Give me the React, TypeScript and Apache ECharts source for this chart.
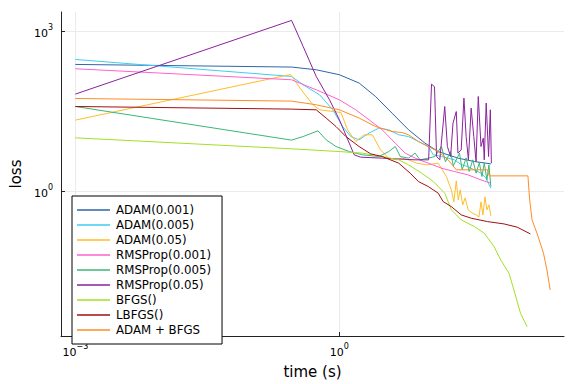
import React, { useEffect, useRef } from "react";
import * as echarts from "echarts";

// Points are [log10(time in s), log10(loss)].
const seriesNames = [
  "ADAM(0.001)",
  "ADAM(0.005)",
  "ADAM(0.05)",
  "RMSProp(0.001)",
  "RMSProp(0.005)",
  "RMSProp(0.05)",
  "BFGS()",
  "LBFGS()",
  "ADAM + BFGS",
];

const colors = [
  "#2f66a8",
  "#3fcdf2",
  "#fdbd2c",
  "#ff62cc",
  "#3cb676",
  "#8a229e",
  "#a2e024",
  "#a30f0f",
  "#ff8b26",
];

const adam001 = [
  [-3, 2.375], [-0.543, 2.326], [-0.263, 2.275], [0, 2.182], [0.225, 2.026],
  [0.411, 1.775], [0.598, 1.464], [0.786, 1.152], [0.972, 0.903], [1.123, 0.745],
  [1.347, 0.622], [1.534, 0.558], [1.721, 0.515],
];

const adam005 = [
  [-3, 2.468], [-0.543, 2.15], [-0.412, 1.994], [-0.225, 1.807], [-0.075, 1.526],
  [0.037, 1.213], [0.13, 1.026], [0.224, 0.964], [0.337, 1.09], [0.449, 1.184],
  [0.561, 1.152], [0.674, 1.058], [0.786, 1.026], [0.898, 0.933], [1.01, 0.839],
  [1.067, 0.684], [1.16, 0.652], [1.235, 0.62], [1.309, 0.59], [1.384, 0.5],
  [1.459, 0.464], [1.534, 0.4], [1.609, 0.341], [1.665, 0.25], [1.721, 0.06],
];

const adam05 = [
  [-3, 1.333], [-0.555, 2.187], [-0.449, 1.933], [-0.3, 1.62], [-0.225, 1.526],
  [0.018, 1.476], [0.093, 1.152], [0.186, 0.933], [0.281, 1.058], [0.374, 1.058],
  [0.467, 0.777], [0.561, 0.622], [0.654, 0.59], [0.711, 0.622], [0.786, 0.59],
  [0.879, 0.528], [0.991, 0.496], [1.123, 0.528], [1.216, 0.277], [1.272, 0.027],
  [1.3, -0.197], [1.328, 0.197], [1.351, -0.159], [1.373, 0.028], [1.401, -0.253],
  [1.429, -0.122], [1.463, -0.346], [1.508, -0.403], [1.553, -0.44], [1.586, -0.477],
  [1.609, -0.197], [1.631, -0.44], [1.654, -0.103], [1.676, -0.346], [1.699, -0.253],
  [1.721, -0.459],
];

const rms001 = [
  [-3, 2.294], [-0.543, 2.088], [-0.263, 1.9], [0, 1.713], [0.186, 1.526],
  [0.337, 1.339], [0.486, 1.152], [0.635, 0.903], [0.748, 0.715], [0.86, 0.622],
  [1.01, 0.528], [1.16, 0.434], [1.309, 0.371], [1.459, 0.309], [1.609, 0.215],
  [1.721, 0.154],
];

const rms005 = [
  [-3, 1.588], [-0.543, 0.959], [-0.412, 1.026], [-0.244, 1.133], [-0.15, 0.964],
  [-0.038, 0.839], [0.112, 0.745], [0.262, 0.684], [0.449, 0.652], [0.561, 0.745],
  [0.635, 0.839], [0.692, 0.652], [0.786, 0.622], [0.86, 0.715], [0.916, 0.59],
  [1.01, 0.622], [1.085, 0.652], [1.16, 0.839], [1.205, 0.552], [1.264, 0.745],
  [1.294, 0.478], [1.365, 0.715], [1.395, 0.403], [1.44, 0.627], [1.474, 0.371],
  [1.516, 0.59], [1.553, 0.341], [1.59, 0.534], [1.62, 0.277], [1.646, 0.534],
  [1.676, 0.215], [1.699, 0.496], [1.721, 0.09],
];

const rms05 = [
  [-3, 1.82], [-0.543, 3.199], [-0.412, 2.712], [-0.263, 2.15], [-0.112, 1.713],
  [0, 1.339], [0.112, 0.903], [0.168, 0.684], [0.242, 0.64], [0.486, 0.622],
  [0.86, 0.59], [1.014, 0.59], [1.047, 2.006], [1.081, 1.957], [1.104, 0.652],
  [1.141, 0.59], [1.197, 1.588], [1.227, 0.839], [1.264, 0.652], [1.291, 1.277],
  [1.328, 1.494], [1.347, 0.715], [1.384, 0.777], [1.415, 1.745], [1.44, 1.026],
  [1.466, 0.59], [1.497, 1.558], [1.527, 1.026], [1.553, 0.558], [1.578, 1.775],
  [1.609, 0.839], [1.635, 0.996], [1.646, 0.59], [1.668, 1.652], [1.695, 0.652],
  [1.715, 1.526], [1.727, 0.528],
];

const bfgs = [
  [-3, 1.002], [-0.543, 0.796], [0, 0.745], [0.262, 0.715], [0.486, 0.652],
  [0.674, 0.59], [0.786, 0.496], [0.935, 0.341], [1.067, 0.184], [1.197, -0.034],
  [1.272, -0.346], [1.384, -0.534], [1.534, -0.659], [1.646, -0.783], [1.758, -1.034],
  [1.833, -1.283], [1.927, -1.532], [1.983, -1.844], [2.058, -2.281], [2.133, -2.532],
];

const lbfgs = [
  [-3, 1.588], [-0.543, 1.539], [-0.263, 1.526], [-0.15, 1.371], [-0.038, 1.213],
  [0.074, 1.026], [0.224, 0.839], [0.355, 0.702], [0.486, 0.652], [0.674, 0.528],
  [0.804, 0.341], [0.898, 0.184], [1.01, 0.09], [1.123, -0.034], [1.179, -0.191],
  [1.272, -0.285], [1.384, -0.44], [1.497, -0.502], [1.684, -0.566], [1.87, -0.609],
  [2.021, -0.67], [2.17, -0.796],
];

const adamBfgs = [
  [-3, 1.738], [-0.543, 1.689], [-0.263, 1.62], [0, 1.526], [0.225, 1.371],
  [0.411, 1.213], [0.598, 1.12], [0.711, 1.101], [0.786, 1.058], [0.898, 0.933],
  [1.01, 0.839], [1.123, 0.745], [1.235, 0.59], [1.328, 0.403], [1.684, 0.403],
  [1.702, 0.29], [2.142, 0.29], [2.162, -0.159], [2.189, -0.534], [2.245, -0.783],
  [2.319, -1.157], [2.358, -1.47], [2.395, -1.844],
];

const allSeries = [adam001, adam005, adam05, rms001, rms005, rms05, bfgs, lbfgs, adamBfgs];

const xTickValues = [0.001, 1];
const yTickValues = [1, 1000];

const FONT = "DejaVu Sans";

function powerLabel(v: number) {
  const e = Math.round(Math.log10(v));
  const s = e < 0 ? "\u2212" + String(-e) : String(e);
  return "{b|10}{s|" + s + "}";
}

const labelRich = {
  b: { fontSize: 11, lineHeight: 16, verticalAlign: "bottom", color: "#000", fontFamily: FONT },
  s: { fontSize: 8, lineHeight: 9, verticalAlign: "top", color: "#000", fontFamily: FONT },
};

export default function App() {
  const ref = useRef<HTMLDivElement>(null);
  useEffect(() => {
    if (!ref.current) return;
    const chart = echarts.init(ref.current, null, { renderer: "svg" });
    chart.setOption({
      animation: false,
      backgroundColor: "#fff",
      grid: { left: 55, right: 12, top: 12, bottom: 48, containLabel: false },
      legend: {
        orient: "vertical",
        left: 72,
        top: 196,
        padding: [8, 11, 8, 5],
        itemGap: 3,
        itemWidth: 33,
        itemHeight: 10,
        icon: "path://M0,0 H33 V1.4 H0 Z",
        backgroundColor: "#fff",
        borderColor: "#000",
        borderWidth: 1,
        borderRadius: 0,
        textStyle: { fontFamily: FONT, fontSize: 11.8, color: "#000", lineHeight: 10, padding: [0, 0, 0, 1] },
        data: seriesNames,
      },
      xAxis: {
        type: "log",
        min: Math.pow(10, -3.163),
        max: Math.pow(10, 2.552),
        name: "time (s)",
        nameLocation: "middle",
        nameGap: 28,
        nameTextStyle: { fontFamily: FONT, fontSize: 15, color: "#000" },
        axisLine: { show: true, onZero: false, lineStyle: { color: "#222", width: 1 } },
        axisTick: { show: true, inside: true, length: 4, customValues: xTickValues, lineStyle: { color: "#222" } },
        axisLabel: {
          customValues: xTickValues,
          margin: 6,
          formatter: powerLabel,
          rich: labelRich,
        },
        splitLine: { show: true, lineStyle: { color: "#ebebeb", width: 1 } },
        minorTick: { show: false },
      },
      yAxis: {
        type: "log",
        min: Math.pow(10, -2.706),
        max: Math.pow(10, 3.356),
        name: "loss",
        nameLocation: "middle",
        nameGap: 37,
        nameTextStyle: { fontFamily: FONT, fontSize: 15, color: "#000" },
        axisLine: { show: true, onZero: false, lineStyle: { color: "#222", width: 1 } },
        axisTick: { show: true, inside: true, length: 4, customValues: yTickValues, lineStyle: { color: "#222" } },
        axisLabel: {
          customValues: yTickValues,
          margin: 8,
          formatter: powerLabel,
          rich: labelRich,
        },
        splitLine: { show: true, lineStyle: { color: "#ebebeb", width: 1 } },
        minorTick: { show: false },
      },
      series: allSeries.map((pts, i) => ({
        name: seriesNames[i],
        type: "line",
        symbol: "none",
        smooth: false,
        color: colors[i],
        lineStyle: { width: 1, color: colors[i] },
        data: pts.map(([a, b]) => [Math.pow(10, a), Math.pow(10, b)]),
      })),
    });
    return () => chart.dispose();
  }, []);
  return <div ref={ref} style={{ width: 576, height: 384, position: "absolute", left: 0, top: 0 }} />;
}
